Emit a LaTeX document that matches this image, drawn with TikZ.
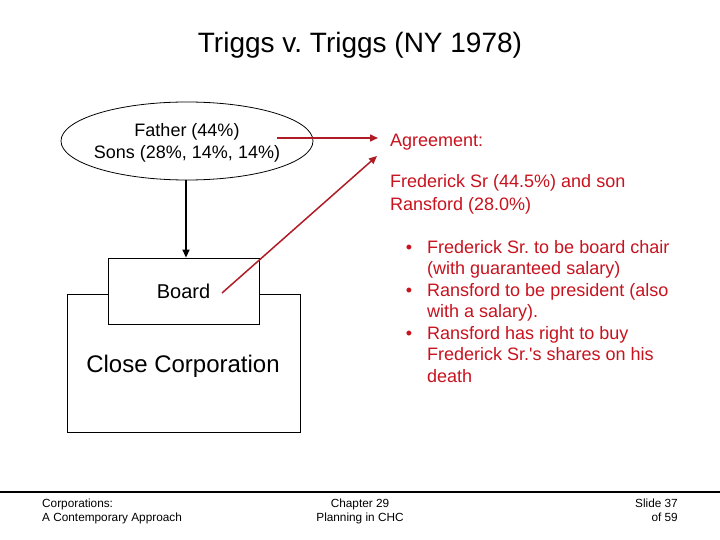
\documentclass[tikz,border=0pt]{standalone}
\usepackage{fontspec}
\setmainfont{Liberation Sans}
\usetikzlibrary{arrows.meta,shapes.geometric}
\definecolor{txtred}{RGB}{200,18,30}
\definecolor{arrred}{RGB}{175,28,38}
\frenchspacing
\tikzset{
  lbl/.style={inner sep=0pt, anchor=base west},
  redtxt/.style={lbl, text=txtred, font=\fontsize{18}{21.5}\selectfont},
  redarrow/.style={draw=arrred, line width=1.5pt, -{Triangle[length=8pt,width=7pt]}},
  blkarrow/.style={draw=black, line width=1.4pt, -{Triangle[length=8pt,width=7pt]}},
  foot/.style={inner sep=0pt, font=\fontsize{11.8}{14}\selectfont},
  bx/.style={draw=black, line width=0.8pt, fill=white}
}
\begin{document}
\begin{tikzpicture}[x=1pt,y=-1pt]
\useasboundingbox (0,0) rectangle (720,540);
% title
\node[inner sep=0pt, anchor=base, font=\fontsize{28}{32}\selectfont] (title) at (360,53) {Triggs v. Triggs (NY 1978)};
% ellipse
\node[ellipse, draw=black, line width=0.8pt, minimum width=252pt, minimum height=78pt, inner sep=0pt] (own) at (187,141) {};
\node[inner sep=0pt, anchor=base, font=\fontsize{18}{21}\selectfont] (father) at (187,137) {Father (44\%)};
\node[inner sep=0pt, anchor=base, font=\fontsize{18}{21}\selectfont] (sons) at (187,158.5) {Sons (28\%, 14\%, 14\%)};
% boxes
\node[bx, minimum width=233pt, minimum height=138pt, inner sep=0pt] (corp) at (183.5,363) {};
\node[bx, minimum width=151pt, minimum height=66pt, inner sep=0pt] (board) at (183.5,291) {};
\node[inner sep=0pt, anchor=base, font=\fontsize{20}{24}\selectfont] (boardtxt) at (183.5,298) {Board};
\node[inner sep=0pt, anchor=base, font=\fontsize{24}{28}\selectfont] (corptxt) at (183,372) {Close Corporation};
% black arrow
\draw[blkarrow] (own.south -| 186,0) -- (board.north -| 186,0);
% right text
\node[redtxt] (agr) at (390,147) {Agreement:};
\node[redtxt] (fs1) at (390,188) {Frederick Sr (44.5\%) and son};
\node[redtxt] (fs2) at (390,211) {Ransford (28.0\%)};
\foreach \y/\t [count=\i] in {
  253/{Frederick Sr. to be board chair},
  274.5/{(with guaranteed salary)},
  296/{Ransford to be president (also},
  317.5/{with a salary).},
  339/{Ransford has right to buy},
  360.5/{Frederick Sr.\textquotesingle s shares on his},
  382/{death}}{
  \node[redtxt] (b\i) at (427,\y) {\t};
}
\foreach \y in {253,296,339}{
  \node[redtxt, anchor=base] at (409,\y) {\textbullet};
}
% red arrows
\coordinate (h1) at (277,138);
\coordinate (h2) at (378,138);
\coordinate (d1) at (222,293);
\coordinate (d2) at (377,156);
\draw[redarrow] (h1) -- (h2);
\draw[redarrow] (d1) -- (d2);
% footer
\coordinate (fl) at (0,492);
\coordinate (fr) at (720,492);
\draw[line width=2.5pt] (fl) -- (fr);
\node[foot, anchor=base west] (f1) at (42,507) {Corporations:};
\node[foot, anchor=base west] (f2) at (42,521) {A Contemporary Approach};
\node[foot, anchor=base] (f3) at (360,507) {Chapter 29};
\node[foot, anchor=base] (f4) at (360,521) {Planning in CHC};
\node[foot, anchor=base east] (f5) at (678,507) {Slide 37};
\node[foot, anchor=base east] (f6) at (678,521) {of 59};
\end{tikzpicture}
\end{document}
